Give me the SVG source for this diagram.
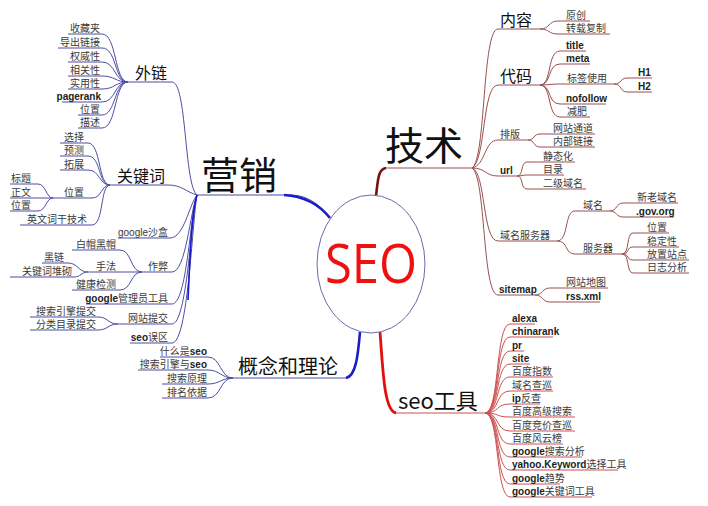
<svg xmlns="http://www.w3.org/2000/svg" width="708" height="506" viewBox="0 0 708 506">
<style>
text{font-family:"Noto Sans CJK SC","Noto Sans",sans-serif;fill:#333}
.t{font-family:"Liberation Sans","Noto Sans CJK SC",sans-serif;font-size:10px;fill:#3a3a3a}
.e{text-anchor:end}
.bd{font-weight:bold;fill:#222}
.big{fill:#111}
path,line{fill:none}
.b{stroke:#4d4da6;stroke-width:1}
.bm{stroke:#1c1cc8;stroke-width:2.6}
.d{stroke:#9a5050;stroke-width:1}
.dm{stroke:#7a1010;stroke-width:2.6}
.r{stroke:#cc5050;stroke-width:1}
.rm{stroke:#e01010;stroke-width:2.8}
</style>
<rect width="708" height="506" fill="#fff"/>

<g id="connectors">
  <!-- main branches -->
  <path class="b" d="M197,195 L290,195 C305,195 318,202 330,218"/>
  <path class="bm" d="M284,195 C302,196 318,203 330,218"/>
  <path class="b" d="M360,332 C358,355 356,378 346,378 L233,378"/>
  <path class="bm" d="M360,332 C358,355 356,376 346,378"/>
  <path class="d" d="M376,196 C378,180 378,168 386,168 L472,168"/>
  <path class="dm" d="M376,196 C378,180 378,169 386,168"/>
  <path class="r" d="M380,332 C383,370 384,413 396,413 L485,413"/>
  <path class="rm" d="M380,332 C383,370 384,411 396,413"/>

  <!-- 营销 children -->
  <path class="b" d="M172,82 C187,82 184,185 197,195"/>
  <path class="b" d="M168,185 C182,185 186,192 197,195"/>
  <path class="b" d="M170,238 C184,238 189,205 197,195"/>
  <path class="b" d="M172,272 C186,272 190,212 197,195"/>
  <path class="b" d="M172,304 C187,304 190,216 197,195"/>
  <path class="b" d="M172,324 C187,324 191,220 197,195"/>
  <path class="b" d="M172,343 C188,343 192,224 197,195"/>
  <path class="bm" style="stroke-width:1.6" d="M197,195 C191,215 190,260 188,300"/>

  <!-- 外链 leaves -->
  <path class="b" d="M102,34 C117,34 114,82 128,82"/>
  <path class="b" d="M102,48 C117,48 114,82 128,82"/>
  <path class="b" d="M102,62 C116,62 114,82 128,82"/>
  <path class="b" d="M102,76 C115,76 115,82 128,82"/>
  <path class="b" d="M102,89 C115,89 115,82 128,82"/>
  <path class="b" d="M102,102 C116,102 114,82 128,82"/>
  <path class="b" d="M102,115 C116,115 114,82 128,82"/>
  <path class="b" d="M102,128 C117,128 114,82 128,82"/>

  <!-- 关键词 leaves -->
  <path class="b" d="M88,143 C101,143 98,185 110,185"/>
  <path class="b" d="M88,156 C101,156 98,185 110,185"/>
  <path class="b" d="M88,170 C100,170 99,185 110,185"/>
  <path class="b" d="M92,198 C102,198 101,185 110,185"/>
  <path class="b" d="M92,225 C104,225 100,185 110,185"/>
  <path class="b" d="M38,184 C46,184 46,198 53,198"/>
  <path class="b" d="M38,198 L53,198"/>
  <path class="b" d="M38,211 C46,211 46,198 53,198"/>

  <!-- 作弊 leaves -->
  <path class="b" d="M120,250 C132,250 130,272 142,272"/>
  <path class="b" d="M120,290 C132,290 130,272 142,272"/>
  <path class="b" d="M68,263 C78,263 78,272 88,272"/>
  <path class="b" d="M74,277 C81,277 81,272 88,272"/>

  <!-- 网站提交 leaves -->
  <path class="b" d="M98,317 C108,317 108,324 118,324"/>
  <path class="b" d="M98,330 C108,330 108,324 118,324"/>

  <!-- 概念和理论 leaves -->
  <path class="b" d="M208,357 C221,357 220,378 233,378"/>
  <path class="b" d="M208,370 C220,370 221,378 233,378"/>
  <path class="b" d="M208,384 C220,384 221,378 233,378"/>
  <path class="b" d="M208,398 C221,398 220,378 233,378"/>

  <!-- 技术 children -->
  <path class="d" d="M472,168 C486,160 482,29 498,29"/>
  <path class="d" d="M472,168 C486,160 482,85 498,85"/>
  <path class="d" d="M472,168 C486,165 484,140 498,140"/>
  <path class="d" d="M472,168 C486,168 485,176 498,176"/>
  <path class="d" d="M472,168 C486,172 482,241 498,241"/>
  <path class="d" d="M472,168 C486,176 482,295 498,295"/>

  <path class="d" d="M540,29 C550,29 548,21 558,21"/>
  <path class="d" d="M540,29 C550,29 548,34 558,34"/>

  <path class="d" d="M540,85 C552,85 547,51 560,51"/>
  <path class="d" d="M540,85 C552,85 547,64 560,64"/>
  <path class="d" d="M540,85 C550,85 550,84 560,84"/>
  <path class="d" d="M540,85 C552,85 547,104 560,104"/>
  <path class="d" d="M540,85 C552,85 547,117 560,117"/>
  <path class="d" d="M614,84 C622,84 620,78 627,78"/>
  <path class="d" d="M614,84 C622,84 620,92 627,92"/>

  <path class="d" d="M528,140 C535,140 533,134 540,134"/>
  <path class="d" d="M528,140 C535,140 533,147 540,147"/>

  <path class="d" d="M517,176 C524,176 520,162 527,162"/>
  <path class="d" d="M517,176 C522,176 522,175 527,175"/>
  <path class="d" d="M517,176 C524,176 520,189 527,189"/>

  <path class="d" d="M557,241 C569,241 564,211 575,211"/>
  <path class="d" d="M557,241 C569,241 564,254 575,254"/>
  <path class="d" d="M610,211 C617,211 616,203 623,203"/>
  <path class="d" d="M610,211 C617,211 616,217 623,217"/>
  <path class="d" d="M622,254 C630,254 626,233 633,233"/>
  <path class="d" d="M622,254 C630,254 626,247 633,247"/>
  <path class="d" d="M622,254 C630,254 626,260 633,260"/>
  <path class="d" d="M622,254 C630,254 626,273 633,273"/>

  <path class="d" d="M535,295 C543,295 542,288 550,288"/>
  <path class="d" d="M535,295 C543,295 542,302 550,302"/>

  <!-- seo工具 leaves -->
  <path class="r" d="M485,413 C500,413 495,324 510,324"/>
  <path class="r" d="M485,413 C500,413 495,337 510,337"/>
  <path class="r" d="M485,413 C500,413 495,351 510,351"/>
  <path class="r" d="M485,413 C500,413 495,364 510,364"/>
  <path class="r" d="M485,413 C500,413 495,377 510,377"/>
  <path class="r" d="M485,413 C500,413 495,391 510,391"/>
  <path class="r" d="M485,413 C500,413 495,404 510,404"/>
  <path class="r" d="M485,413 C500,413 495,417 510,417"/>
  <path class="r" d="M485,413 C500,413 495,431 510,431"/>
  <path class="r" d="M485,413 C500,413 495,444 510,444"/>
  <path class="r" d="M485,413 C500,413 495,457 510,457"/>
  <path class="r" d="M485,413 C500,413 495,470 510,470"/>
  <path class="r" d="M485,413 C500,413 495,484 510,484"/>
  <path class="r" d="M485,413 C500,413 495,497 510,497"/>
</g>

<!-- center -->
<g id="n-seo">
  <ellipse cx="371" cy="264" rx="54" ry="69" fill="#fff" stroke="#6a6aaa" stroke-width="1"/>
  <text x="371" y="283" text-anchor="middle" textLength="92" lengthAdjust="spacingAndGlyphs" style="font-family:'Open Sans','Liberation Sans',sans-serif;font-size:54px;fill:#ee1111">SEO</text>
</g>

<!-- 营销 -->
<g id="n-yingxiao"><text class="big" x="201" y="189" style="font-size:38px">营销</text></g>
<g id="n-wailian"><line class="b" x1="128" y1="82" x2="172" y2="82"/><text class="big" x="135" y="79" style="font-size:16px">外链</text></g>
<g id="n-wl1"><line class="b" x1="68" y1="34" x2="102" y2="34"/><text class="t e" x="100" y="32">收藏夹</text></g>
<g id="n-wl2"><line class="b" x1="58" y1="48" x2="102" y2="48"/><text class="t e" x="100" y="46">导出链接</text></g>
<g id="n-wl3"><line class="b" x1="68" y1="62" x2="102" y2="62"/><text class="t e" x="100" y="60">权威性</text></g>
<g id="n-wl4"><line class="b" x1="68" y1="76" x2="102" y2="76"/><text class="t e" x="100" y="74">相关性</text></g>
<g id="n-wl5"><line class="b" x1="68" y1="89" x2="102" y2="89"/><text class="t e" x="100" y="87">实用性</text></g>
<g id="n-wl6"><line class="b" x1="62" y1="102" x2="102" y2="102"/><text class="t e bd" x="101" y="100">pagerank</text></g>
<g id="n-wl7"><line class="b" x1="78" y1="115" x2="102" y2="115"/><text class="t e" x="100" y="113">位置</text></g>
<g id="n-wl8"><line class="b" x1="78" y1="128" x2="102" y2="128"/><text class="t e" x="100" y="126">描述</text></g>

<g id="n-guanjianci"><line class="b" x1="110" y1="185" x2="168" y2="185"/><text class="big" x="117" y="182" style="font-size:16px">关键词</text></g>
<g id="n-gj1"><line class="b" x1="60" y1="143" x2="88" y2="143"/><text class="t e" x="84" y="141">选择</text></g>
<g id="n-gj2"><line class="b" x1="60" y1="156" x2="88" y2="156"/><text class="t e" x="84" y="154">预测</text></g>
<g id="n-gj3"><line class="b" x1="60" y1="170" x2="88" y2="170"/><text class="t e" x="84" y="168">拓展</text></g>
<g id="n-gj4"><line class="b" x1="53" y1="198" x2="92" y2="198"/><text class="t e" x="84" y="196">位置</text></g>
<g id="n-gj41"><line class="b" x1="10" y1="184" x2="38" y2="184"/><text class="t" x="11" y="182">标题</text></g>
<g id="n-gj42"><line class="b" x1="10" y1="198" x2="38" y2="198"/><text class="t" x="11" y="196">正文</text></g>
<g id="n-gj43"><line class="b" x1="10" y1="211" x2="38" y2="211"/><text class="t" x="11" y="209">位置</text></g>
<g id="n-gj5"><line class="b" x1="20" y1="225" x2="92" y2="225"/><text class="t e" x="87" y="223">英文词干技术</text></g>

<g id="n-shahe"><line class="b" x1="118" y1="238" x2="170" y2="238"/><text class="t e" x="168" y="236">google沙盒</text></g>
<g id="n-zuobi"><line class="b" x1="142" y1="272" x2="172" y2="272"/><text class="t e" x="168" y="270">作弊</text></g>
<g id="n-zb1"><line class="b" x1="72" y1="250" x2="120" y2="250"/><text class="t e" x="116" y="248">白帽黑帽</text></g>
<g id="n-zb2"><line class="b" x1="88" y1="272" x2="142" y2="272"/><text class="t e" x="116" y="270">手法</text></g>
<g id="n-zb21"><line class="b" x1="42" y1="263" x2="68" y2="263"/><text class="t e" x="64" y="261">黑链</text></g>
<g id="n-zb22"><line class="b" x1="10" y1="277" x2="74" y2="277"/><text class="t e" x="72" y="275">关键词堆砌</text></g>
<g id="n-zb3"><line class="b" x1="72" y1="290" x2="120" y2="290"/><text class="t e" x="116" y="288">健康检测</text></g>
<g id="n-gly"><line class="b" x1="86" y1="304" x2="172" y2="304"/><text class="t e" x="168" y="302"><tspan class="bd">google</tspan>管理员工具</text></g>
<g id="n-tijiao"><line class="b" x1="118" y1="324" x2="172" y2="324"/><text class="t e" x="168" y="322">网站提交</text></g>
<g id="n-tj1"><line class="b" x1="30" y1="317" x2="98" y2="317"/><text class="t e" x="96" y="315">搜索引擎提交</text></g>
<g id="n-tj2"><line class="b" x1="30" y1="330" x2="98" y2="330"/><text class="t e" x="96" y="328">分类目录提交</text></g>
<g id="n-wuqu"><line class="b" x1="130" y1="343" x2="172" y2="343"/><text class="t e" x="168" y="341"><tspan class="bd">seo</tspan>误区</text></g>

<!-- 概念和理论 -->
<g id="n-gainian"><text class="big" x="238" y="374" style="font-size:20px">概念和理论</text></g>
<g id="n-gn1"><line class="b" x1="160" y1="357" x2="208" y2="357"/><text class="t e" x="207" y="355">什么是<tspan class="bd">seo</tspan></text></g>
<g id="n-gn2"><line class="b" x1="138" y1="370" x2="208" y2="370"/><text class="t e" x="207" y="368">搜索引擎与<tspan class="bd">seo</tspan></text></g>
<g id="n-gn3"><line class="b" x1="162" y1="384" x2="208" y2="384"/><text class="t e" x="207" y="382">搜索原理</text></g>
<g id="n-gn4"><line class="b" x1="162" y1="398" x2="208" y2="398"/><text class="t e" x="207" y="396">排名依据</text></g>

<!-- 技术 -->
<g id="n-jishu"><text class="big" x="385" y="160" style="font-size:39px">技术</text></g>
<g id="n-neirong"><line class="d" x1="498" y1="29" x2="540" y2="29"/><text class="big" x="500" y="26" style="font-size:16px">内容</text></g>
<g id="n-nr1"><line class="d" x1="558" y1="21" x2="590" y2="21"/><text class="t" x="566" y="19">原创</text></g>
<g id="n-nr2"><line class="d" x1="558" y1="34" x2="610" y2="34"/><text class="t" x="566" y="32">转载复制</text></g>
<g id="n-daima"><line class="d" x1="498" y1="85" x2="540" y2="85"/><text class="big" x="500" y="82" style="font-size:16px">代码</text></g>
<g id="n-dm1"><line class="d" x1="560" y1="51" x2="586" y2="51"/><text class="t bd" x="566" y="49">title</text></g>
<g id="n-dm2"><line class="d" x1="560" y1="64" x2="590" y2="64"/><text class="t bd" x="566" y="62">meta</text></g>
<g id="n-dm3"><line class="d" x1="560" y1="84" x2="614" y2="84"/><text class="t" x="567" y="82">标签使用</text></g>
<g id="n-h1"><line class="d" x1="627" y1="78" x2="652" y2="78"/><text class="t bd" x="638" y="76">H1</text></g>
<g id="n-h2"><line class="d" x1="627" y1="92" x2="652" y2="92"/><text class="t bd" x="638" y="90">H2</text></g>
<g id="n-dm4"><line class="d" x1="560" y1="104" x2="606" y2="104"/><text class="t bd" x="566" y="102">nofollow</text></g>
<g id="n-dm5"><line class="d" x1="560" y1="117" x2="590" y2="117"/><text class="t" x="567" y="115">减肥</text></g>
<g id="n-paiban"><line class="d" x1="498" y1="140" x2="528" y2="140"/><text class="t" x="500" y="138">排版</text></g>
<g id="n-pb1"><line class="d" x1="540" y1="134" x2="595" y2="134"/><text class="t" x="553" y="132">网站通道</text></g>
<g id="n-pb2"><line class="d" x1="540" y1="147" x2="595" y2="147"/><text class="t" x="553" y="145">内部链接</text></g>
<g id="n-url"><line class="d" x1="498" y1="176" x2="517" y2="176"/><text class="t bd" x="500" y="174">url</text></g>
<g id="n-url1"><line class="d" x1="527" y1="162" x2="575" y2="162"/><text class="t" x="543" y="160">静态化</text></g>
<g id="n-url2"><line class="d" x1="527" y1="175" x2="564" y2="175"/><text class="t" x="543" y="173">目录</text></g>
<g id="n-url3"><line class="d" x1="527" y1="189" x2="586" y2="189"/><text class="t" x="543" y="187">二级域名</text></g>
<g id="n-ymfwq"><line class="d" x1="498" y1="241" x2="557" y2="241"/><text class="t" x="500" y="239">域名服务器</text></g>
<g id="n-ym"><line class="d" x1="575" y1="211" x2="610" y2="211"/><text class="t" x="583" y="209">域名</text></g>
<g id="n-ym1"><line class="d" x1="623" y1="203" x2="678" y2="203"/><text class="t" x="637" y="201">新老域名</text></g>
<g id="n-ym2"><line class="d" x1="623" y1="217" x2="674" y2="217"/><text class="t bd" x="636" y="215">.gov.org</text></g>
<g id="n-fwq"><line class="d" x1="575" y1="254" x2="622" y2="254"/><text class="t" x="583" y="252">服务器</text></g>
<g id="n-fw1"><line class="d" x1="633" y1="233" x2="669" y2="233"/><text class="t" x="647" y="231">位置</text></g>
<g id="n-fw2"><line class="d" x1="633" y1="247" x2="679" y2="247"/><text class="t" x="647" y="245">稳定性</text></g>
<g id="n-fw3"><line class="d" x1="633" y1="260" x2="689" y2="260"/><text class="t" x="647" y="258">放置站点</text></g>
<g id="n-fw4"><line class="d" x1="633" y1="273" x2="689" y2="273"/><text class="t" x="647" y="271">日志分析</text></g>
<g id="n-sitemap"><line class="d" x1="498" y1="295" x2="535" y2="295"/><text class="t bd" x="499" y="293">sitemap</text></g>
<g id="n-sm1"><line class="d" x1="550" y1="288" x2="608" y2="288"/><text class="t" x="566" y="286">网站地图</text></g>
<g id="n-sm2"><line class="d" x1="550" y1="302" x2="600" y2="302"/><text class="t bd" x="566" y="300">rss.xml</text></g>

<!-- seo工具 -->
<g id="n-gongju"><text class="big" x="398" y="409" style="font-size:22px">seo工具</text></g>
<g id="n-gj-1"><line class="r" x1="510" y1="324" x2="535" y2="324"/><text class="t bd" x="512" y="322">alexa</text></g>
<g id="n-gj-2"><line class="r" x1="510" y1="337" x2="553" y2="337"/><text class="t bd" x="512" y="335">chinarank</text></g>
<g id="n-gj-3"><line class="r" x1="510" y1="351" x2="524" y2="351"/><text class="t bd" x="512" y="349">pr</text></g>
<g id="n-gj-4"><line class="r" x1="510" y1="364" x2="530" y2="364"/><text class="t bd" x="512" y="362">site</text></g>
<g id="n-gj-5"><line class="r" x1="510" y1="377" x2="553" y2="377"/><text class="t" x="512" y="375">百度指数</text></g>
<g id="n-gj-6"><line class="r" x1="510" y1="391" x2="553" y2="391"/><text class="t" x="512" y="389">域名查巡</text></g>
<g id="n-gj-7"><line class="r" x1="510" y1="404" x2="540" y2="404"/><text class="t" x="512" y="402"><tspan class="bd">ip</tspan>反查</text></g>
<g id="n-gj-8"><line class="r" x1="510" y1="417" x2="575" y2="417"/><text class="t" x="512" y="415">百度高级搜索</text></g>
<g id="n-gj-9"><line class="r" x1="510" y1="431" x2="575" y2="431"/><text class="t" x="512" y="429">百度竞价查巡</text></g>
<g id="n-gj-10"><line class="r" x1="510" y1="444" x2="563" y2="444"/><text class="t" x="512" y="442">百度风云榜</text></g>
<g id="n-gj-11"><line class="r" x1="510" y1="457" x2="582" y2="457"/><text class="t" x="512" y="455"><tspan class="bd">google</tspan>搜索分析</text></g>
<g id="n-gj-12"><line class="r" x1="510" y1="470" x2="618" y2="470"/><text class="t" x="512" y="468"><tspan class="bd">yahoo.Keyword</tspan>选择工具</text></g>
<g id="n-gj-13"><line class="r" x1="510" y1="484" x2="560" y2="484"/><text class="t" x="512" y="482"><tspan class="bd">google</tspan>趋势</text></g>
<g id="n-gj-14"><line class="r" x1="510" y1="497" x2="592" y2="497"/><text class="t" x="512" y="495"><tspan class="bd">google</tspan>关键词工具</text></g>
</svg>
